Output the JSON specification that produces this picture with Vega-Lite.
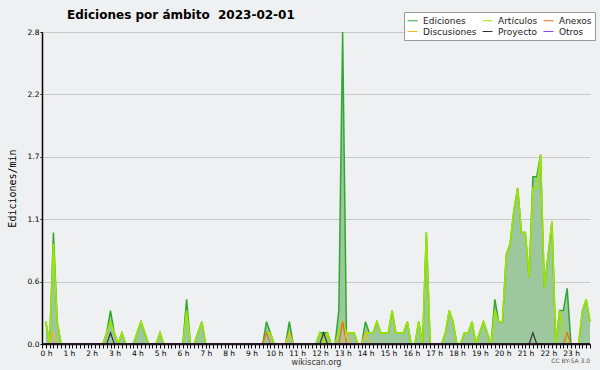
{
  "$schema": "https://vega.github.io/schema/vega-lite/v6.json",
  "width": 548,
  "height": 312,
  "autosize": {"type": "none"},
  "padding": {"left": 42, "top": 32, "right": 10, "bottom": 26},
  "background": "#eff0f1",
  "title": {"text": "Ediciones por ámbito\u00a0\u00a02023-02-01", "anchor": "start", "dx": 60, "dy": 10, "offset": 0, "font": "DejaVu Sans", "fontSize": 12, "fontWeight": "bold", "color": "#000000"},
  "config": {"view": {"stroke": null}, "font": "DejaVu Sans", "axisX": {"labelOverlap": false, "labelBound": false, "labelFlush": false}},
  "data": {"values": [
    {"t":10,"E":0.2,"A":0.2,"X":0,"D":0,"P":0,"O":0},
    {"t":20,"E":0,"A":0,"X":0,"D":0,"P":0,"O":0},
    {"t":30,"E":1.0,"A":0.9,"X":0,"D":0.1,"P":0,"O":0},
    {"t":40,"E":0.2,"A":0.2,"X":0,"D":0,"P":0,"O":0},
    {"t":50,"E":0,"A":0,"X":0,"D":0,"P":0,"O":0},
    {"t":60,"E":0,"A":0,"X":0,"D":0,"P":0,"O":0},
    {"t":70,"E":0,"A":0,"X":0,"D":0,"P":0,"O":0},
    {"t":80,"E":0,"A":0,"X":0,"D":0,"P":0,"O":0},
    {"t":90,"E":0,"A":0,"X":0,"D":0,"P":0,"O":0},
    {"t":100,"E":0,"A":0,"X":0,"D":0,"P":0,"O":0},
    {"t":110,"E":0,"A":0,"X":0,"D":0,"P":0,"O":0},
    {"t":120,"E":0,"A":0,"X":0,"D":0,"P":0,"O":0},
    {"t":130,"E":0,"A":0,"X":0,"D":0,"P":0,"O":0},
    {"t":140,"E":0,"A":0,"X":0,"D":0,"P":0,"O":0},
    {"t":150,"E":0,"A":0,"X":0,"D":0,"P":0,"O":0},
    {"t":160,"E":0,"A":0,"X":0,"D":0,"P":0,"O":0},
    {"t":170,"E":0.1,"A":0.1,"X":0,"D":0,"P":0,"O":0},
    {"t":180,"E":0.3,"A":0.2,"X":0,"D":0,"P":0.1,"O":0},
    {"t":190,"E":0.1,"A":0.1,"X":0,"D":0,"P":0,"O":0},
    {"t":200,"E":0,"A":0,"X":0,"D":0,"P":0,"O":0},
    {"t":210,"E":0.1,"A":0.1,"X":0,"D":0,"P":0,"O":0},
    {"t":220,"E":0,"A":0,"X":0,"D":0,"P":0,"O":0},
    {"t":230,"E":0,"A":0,"X":0,"D":0,"P":0,"O":0},
    {"t":240,"E":0,"A":0,"X":0,"D":0,"P":0,"O":0},
    {"t":250,"E":0.1,"A":0.1,"X":0,"D":0,"P":0,"O":0},
    {"t":260,"E":0.2,"A":0.2,"X":0,"D":0,"P":0,"O":0},
    {"t":270,"E":0.1,"A":0.1,"X":0,"D":0,"P":0,"O":0},
    {"t":280,"E":0,"A":0,"X":0,"D":0,"P":0,"O":0},
    {"t":290,"E":0,"A":0,"X":0,"D":0,"P":0,"O":0},
    {"t":300,"E":0,"A":0,"X":0,"D":0,"P":0,"O":0},
    {"t":310,"E":0.1,"A":0.1,"X":0,"D":0,"P":0,"O":0},
    {"t":320,"E":0,"A":0,"X":0,"D":0,"P":0,"O":0},
    {"t":330,"E":0,"A":0,"X":0,"D":0,"P":0,"O":0},
    {"t":340,"E":0,"A":0,"X":0,"D":0,"P":0,"O":0},
    {"t":350,"E":0,"A":0,"X":0,"D":0,"P":0,"O":0},
    {"t":360,"E":0,"A":0,"X":0,"D":0,"P":0,"O":0},
    {"t":370,"E":0,"A":0,"X":0,"D":0,"P":0,"O":0},
    {"t":380,"E":0.4,"A":0.3,"X":0,"D":0,"P":0,"O":0},
    {"t":390,"E":0,"A":0,"X":0,"D":0,"P":0,"O":0},
    {"t":400,"E":0,"A":0,"X":0,"D":0,"P":0,"O":0},
    {"t":410,"E":0.1,"A":0.1,"X":0,"D":0,"P":0,"O":0},
    {"t":420,"E":0.2,"A":0.2,"X":0,"D":0,"P":0,"O":0},
    {"t":430,"E":0,"A":0,"X":0,"D":0,"P":0,"O":0},
    {"t":440,"E":0,"A":0,"X":0,"D":0,"P":0,"O":0},
    {"t":450,"E":0,"A":0,"X":0,"D":0,"P":0,"O":0},
    {"t":460,"E":0,"A":0,"X":0,"D":0,"P":0,"O":0},
    {"t":470,"E":0,"A":0,"X":0,"D":0,"P":0,"O":0},
    {"t":480,"E":0,"A":0,"X":0,"D":0,"P":0,"O":0},
    {"t":490,"E":0,"A":0,"X":0,"D":0,"P":0,"O":0},
    {"t":500,"E":0,"A":0,"X":0,"D":0,"P":0,"O":0},
    {"t":510,"E":0,"A":0,"X":0,"D":0,"P":0,"O":0},
    {"t":520,"E":0,"A":0,"X":0,"D":0,"P":0,"O":0},
    {"t":530,"E":0,"A":0,"X":0,"D":0,"P":0,"O":0},
    {"t":540,"E":0,"A":0,"X":0,"D":0,"P":0,"O":0},
    {"t":550,"E":0,"A":0,"X":0,"D":0,"P":0,"O":0},
    {"t":560,"E":0,"A":0,"X":0,"D":0,"P":0,"O":0},
    {"t":570,"E":0,"A":0,"X":0,"D":0,"P":0,"O":0},
    {"t":580,"E":0,"A":0,"X":0,"D":0,"P":0,"O":0},
    {"t":590,"E":0.2,"A":0.1,"X":0.1,"D":0,"P":0,"O":0},
    {"t":600,"E":0.1,"A":0.1,"X":0,"D":0,"P":0,"O":0},
    {"t":610,"E":0,"A":0,"X":0,"D":0,"P":0,"O":0},
    {"t":620,"E":0,"A":0,"X":0,"D":0,"P":0,"O":0},
    {"t":630,"E":0,"A":0,"X":0,"D":0,"P":0,"O":0},
    {"t":640,"E":0,"A":0,"X":0,"D":0,"P":0,"O":0},
    {"t":650,"E":0.2,"A":0.1,"X":0,"D":0.1,"P":0,"O":0},
    {"t":660,"E":0,"A":0,"X":0,"D":0,"P":0,"O":0},
    {"t":670,"E":0,"A":0,"X":0,"D":0,"P":0,"O":0},
    {"t":680,"E":0,"A":0,"X":0,"D":0,"P":0,"O":0},
    {"t":690,"E":0,"A":0,"X":0,"D":0,"P":0,"O":0},
    {"t":700,"E":0,"A":0,"X":0,"D":0,"P":0,"O":0},
    {"t":710,"E":0,"A":0,"X":0,"D":0,"P":0,"O":0},
    {"t":720,"E":0,"A":0,"X":0,"D":0,"P":0,"O":0},
    {"t":730,"E":0.1,"A":0.1,"X":0,"D":0,"P":0,"O":0},
    {"t":740,"E":0.1,"A":0,"X":0,"D":0,"P":0.1,"O":0},
    {"t":750,"E":0.1,"A":0.1,"X":0,"D":0,"P":0,"O":0},
    {"t":760,"E":0,"A":0,"X":0,"D":0,"P":0,"O":0},
    {"t":770,"E":0,"A":0,"X":0,"D":0,"P":0,"O":0},
    {"t":780,"E":0.3,"A":0.1,"X":0,"D":0,"P":0,"O":0},
    {"t":790,"E":2.8,"A":0.2,"X":0.2,"D":0,"P":0,"O":0},
    {"t":800,"E":0.1,"A":0.1,"X":0,"D":0.1,"P":0,"O":0},
    {"t":810,"E":0.1,"A":0.1,"X":0,"D":0,"P":0,"O":0},
    {"t":820,"E":0.1,"A":0.1,"X":0,"D":0,"P":0,"O":0},
    {"t":830,"E":0,"A":0,"X":0,"D":0,"P":0,"O":0},
    {"t":840,"E":0,"A":0,"X":0,"D":0,"P":0,"O":0},
    {"t":850,"E":0.2,"A":0.1,"X":0,"D":0.1,"P":0,"O":0},
    {"t":860,"E":0.1,"A":0.1,"X":0,"D":0,"P":0,"O":0},
    {"t":870,"E":0.1,"A":0.1,"X":0,"D":0,"P":0,"O":0},
    {"t":880,"E":0.2,"A":0.2,"X":0,"D":0,"P":0,"O":0},
    {"t":890,"E":0.1,"A":0.1,"X":0,"D":0,"P":0,"O":0},
    {"t":900,"E":0.1,"A":0.1,"X":0,"D":0,"P":0,"O":0},
    {"t":910,"E":0.1,"A":0.1,"X":0,"D":0,"P":0,"O":0},
    {"t":920,"E":0.3,"A":0.3,"X":0,"D":0,"P":0,"O":0},
    {"t":930,"E":0.1,"A":0.1,"X":0,"D":0,"P":0,"O":0},
    {"t":940,"E":0.1,"A":0.1,"X":0,"D":0,"P":0,"O":0},
    {"t":950,"E":0.1,"A":0.1,"X":0,"D":0,"P":0,"O":0},
    {"t":960,"E":0.2,"A":0.2,"X":0,"D":0,"P":0,"O":0},
    {"t":970,"E":0,"A":0,"X":0,"D":0,"P":0,"O":0},
    {"t":980,"E":0,"A":0,"X":0,"D":0,"P":0,"O":0},
    {"t":990,"E":0.2,"A":0.2,"X":0,"D":0,"P":0,"O":0},
    {"t":1000,"E":0,"A":0,"X":0,"D":0,"P":0,"O":0},
    {"t":1010,"E":1.0,"A":1.0,"X":0,"D":0,"P":0,"O":0},
    {"t":1020,"E":0,"A":0,"X":0,"D":0,"P":0,"O":0},
    {"t":1030,"E":0,"A":0,"X":0,"D":0,"P":0,"O":0},
    {"t":1040,"E":0,"A":0,"X":0,"D":0,"P":0,"O":0},
    {"t":1050,"E":0,"A":0,"X":0,"D":0,"P":0,"O":0},
    {"t":1060,"E":0.1,"A":0.1,"X":0,"D":0,"P":0,"O":0},
    {"t":1070,"E":0.3,"A":0.3,"X":0,"D":0,"P":0,"O":0},
    {"t":1080,"E":0.2,"A":0.2,"X":0,"D":0,"P":0,"O":0},
    {"t":1090,"E":0,"A":0,"X":0,"D":0,"P":0,"O":0},
    {"t":1100,"E":0,"A":0,"X":0,"D":0,"P":0,"O":0},
    {"t":1110,"E":0.1,"A":0.1,"X":0,"D":0,"P":0,"O":0},
    {"t":1120,"E":0.1,"A":0.1,"X":0,"D":0,"P":0,"O":0},
    {"t":1130,"E":0.2,"A":0.2,"X":0,"D":0,"P":0,"O":0},
    {"t":1140,"E":0,"A":0,"X":0,"D":0,"P":0,"O":0},
    {"t":1150,"E":0.1,"A":0.1,"X":0,"D":0,"P":0,"O":0},
    {"t":1160,"E":0.2,"A":0.2,"X":0,"D":0,"P":0,"O":0},
    {"t":1170,"E":0.1,"A":0.1,"X":0,"D":0,"P":0,"O":0},
    {"t":1180,"E":0,"A":0,"X":0,"D":0,"P":0,"O":0},
    {"t":1190,"E":0.4,"A":0.3,"X":0,"D":0,"P":0,"O":0},
    {"t":1200,"E":0.2,"A":0.2,"X":0,"D":0,"P":0,"O":0},
    {"t":1210,"E":0.2,"A":0.2,"X":0,"D":0,"P":0,"O":0},
    {"t":1220,"E":0.8,"A":0.8,"X":0,"D":0,"P":0,"O":0},
    {"t":1230,"E":0.9,"A":0.9,"X":0,"D":0,"P":0,"O":0},
    {"t":1240,"E":1.2,"A":1.2,"X":0,"D":0,"P":0,"O":0},
    {"t":1250,"E":1.4,"A":1.4,"X":0,"D":0,"P":0,"O":0},
    {"t":1260,"E":1.0,"A":1.0,"X":0,"D":0,"P":0,"O":0},
    {"t":1270,"E":1.0,"A":1.0,"X":0,"D":0,"P":0,"O":0},
    {"t":1280,"E":0.6,"A":0.6,"X":0,"D":0,"P":0,"O":0},
    {"t":1290,"E":1.5,"A":1.4,"X":0,"D":0,"P":0.1,"O":0},
    {"t":1300,"E":1.5,"A":1.4,"X":0,"D":0,"P":0,"O":0},
    {"t":1310,"E":1.7,"A":1.7,"X":0,"D":0,"P":0,"O":0},
    {"t":1320,"E":0.5,"A":0.5,"X":0,"D":0,"P":0,"O":0},
    {"t":1330,"E":0.8,"A":0.8,"X":0,"D":0,"P":0,"O":0},
    {"t":1340,"E":1.1,"A":1.1,"X":0,"D":0,"P":0,"O":0},
    {"t":1350,"E":0,"A":0,"X":0,"D":0,"P":0,"O":0},
    {"t":1360,"E":0.3,"A":0.3,"X":0,"D":0,"P":0,"O":0},
    {"t":1370,"E":0.3,"A":0.1,"X":0,"D":0,"P":0,"O":0},
    {"t":1380,"E":0.5,"A":0,"X":0.1,"D":0,"P":0,"O":0},
    {"t":1390,"E":0,"A":0,"X":0,"D":0,"P":0,"O":0},
    {"t":1400,"E":0,"A":0,"X":0,"D":0,"P":0,"O":0},
    {"t":1410,"E":0,"A":0,"X":0,"D":0,"P":0,"O":0},
    {"t":1420,"E":0.3,"A":0.3,"X":0,"D":0,"P":0,"O":0},
    {"t":1430,"E":0.4,"A":0.4,"X":0,"D":0,"P":0,"O":0},
    {"t":1440,"E":0.2,"A":0.2,"X":0,"D":0,"P":0,"O":0}
  ]},
  "transform": [{"fold": ["E", "A", "X", "D", "P", "O"], "as": ["k", "v"]}],
  "layer": [
    {
      "transform": [{"filter": "datum.k == 'E'"}],
      "mark": {"type": "area", "color": "#9dc89d", "opacity": 1},
      "encoding": {
        "x": {"field": "t", "type": "quantitative", "scale": {"domain": [0, 1440], "nice": false, "zero": false},
          "axis": {
            "values": [0,10,20,30,40,50,60,70,80,90,100,110,120,130,140,150,160,170,180,190,200,210,220,230,240,250,260,270,280,290,300,310,320,330,340,350,360,370,380,390,400,410,420,430,440,450,460,470,480,490,500,510,520,530,540,550,560,570,580,590,600,610,620,630,640,650,660,670,680,690,700,710,720,730,740,750,760,770,780,790,800,810,820,830,840,850,860,870,880,890,900,910,920,930,940,950,960,970,980,990,1000,1010,1020,1030,1040,1050,1060,1070,1080,1090,1100,1110,1120,1130,1140,1150,1160,1170,1180,1190,1200,1210,1220,1230,1240,1250,1260,1270,1280,1290,1300,1310,1320,1330,1340,1350,1360,1370,1380,1390,1400,1410,1420,1430,1440],
            "tickCount": 300,
            "labelExpr": "datum.value % 60 == 0 && datum.value < 1440 ? (datum.value / 60) + ' h' : ''",
            "labelAlign": "center", "labelOffset": 4, "labelFlush": false, "labelOverlap": false, "labelBound": false,
            "labelFont": "DejaVu Sans", "labelFontSize": 7.5, "labelColor": "#000000", "labelPadding": 1,
            "tickSize": 4, "tickColor": "#000000", "tickWidth": 1,
            "domainColor": "#000000", "domainWidth": 1.5, "grid": false,
            "title": "wikiscan.org", "titleFont": "DejaVu Sans", "titleFontSize": 8, "titleFontWeight": "normal", "titleColor": "#333333", "titlePadding": 2
          }},
        "y": {"field": "v", "type": "quantitative", "scale": {"domain": [0, 2.8], "nice": false},
          "axis": {
            "values": [0, 0.56, 1.12, 1.68, 2.24, 2.8], "format": ".1f", "tickCount": 20,
            "labelFont": "DejaVu Sans", "labelFontSize": 7.5, "labelColor": "#000000", "labelPadding": 1,
            "tickSize": 2, "tickColor": "#000000",
            "domainColor": "#000000", "domainWidth": 1.5,
            "grid": true, "gridColor": "#c8c8c8", "gridWidth": 1,
            "title": "Ediciones/min", "titleFont": "DejaVu Sans Mono", "titleFontSize": 10, "titleFontWeight": "normal", "titleColor": "#000000", "titlePadding": 10
          }}
      }
    },
    {
      "transform": [{"filter": "datum.k == 'E'"}],
      "mark": {"type": "line", "strokeWidth": 1.5},
      "encoding": {
        "x": {"field": "t", "type": "quantitative"},
        "y": {"field": "v", "type": "quantitative"},
        "color": {"field": "k", "type": "nominal",
          "scale": {"domain": ["E", "A", "X", "D", "P", "O"], "range": ["#30a830", "#9ee600", "#ee6622", "#eebb22", "#333333", "#9944ee"]},
          "legend": {
            "orient": "none", "legendX": 362, "legendY": -20, "direction": "horizontal", "columns": 3, "title": null,
            "symbolType": "stroke", "symbolSize": 100, "symbolStrokeWidth": 1,
            "labelExpr": "datum.label == 'E' ? 'Ediciones' : datum.label == 'A' ? 'Artículos' : datum.label == 'X' ? 'Anexos' : datum.label == 'D' ? 'Discusiones' : datum.label == 'P' ? 'Proyecto' : 'Otros'",
            "labelFont": "DejaVu Sans", "labelFontSize": 9, "labelColor": "#222222", "labelOffset": 5,
            "fillColor": "#ffffff", "strokeColor": "#9a9a9a", "padding": 3, "rowPadding": 0, "columnPadding": 3
          }}
      }
    },
    {
      "transform": [{"filter": "datum.k == 'A'"}],
      "mark": {"type": "line", "strokeWidth": 1.6},
      "encoding": {
        "x": {"field": "t", "type": "quantitative"},
        "y": {"field": "v", "type": "quantitative"},
        "color": {"field": "k", "type": "nominal"}
      }
    },
    {
      "transform": [{"filter": "datum.k != 'E' && datum.k != 'A'"}],
      "mark": {"type": "line", "strokeWidth": 1.2},
      "encoding": {
        "x": {"field": "t", "type": "quantitative"},
        "y": {"field": "v", "type": "quantitative"},
        "color": {"field": "k", "type": "nominal"}
      }
    },
    {
      "data": {"values": [{"a": 1}]},
      "mark": {"type": "rule", "color": "#000000", "strokeWidth": 1.5},
      "encoding": {"y": {"datum": 0}}
    },
    {
      "data": {"values": [{"a": 1}]},
      "mark": {"type": "text", "text": "CC BY-SA 3.0", "align": "right", "baseline": "middle", "dy": 17, "font": "DejaVu Sans", "fontSize": 6, "color": "#555555"},
      "encoding": {"x": {"datum": 1440}, "y": {"datum": 0}}
    }
  ]
}
